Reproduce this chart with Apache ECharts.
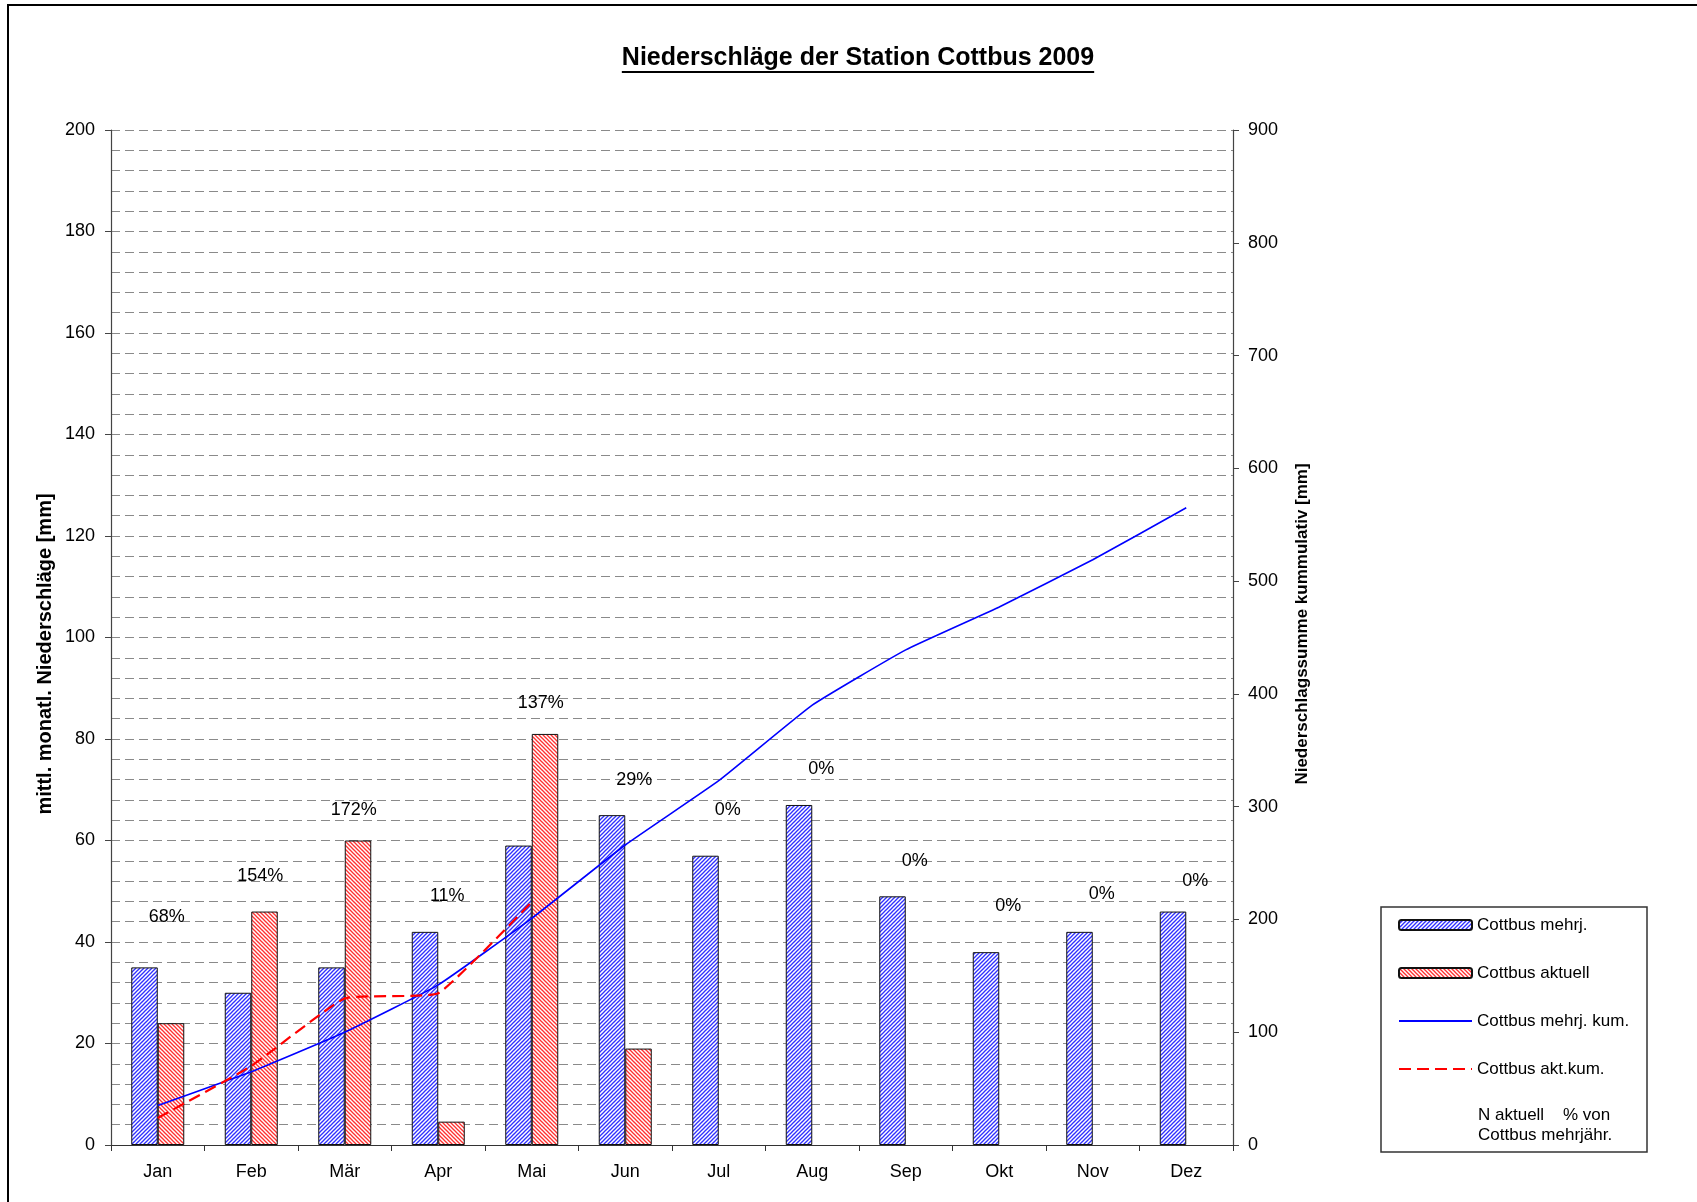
<!DOCTYPE html>
<html>
<head>
<meta charset="utf-8">
<script src="https://cdn.jsdelivr.net/npm/echarts@6/dist/echarts.min.js"></script>
<style>
html,body{margin:0;padding:0;background:#fff;}
#chart{width:1697px;height:1202px;}
</style>
</head>
<body>
<div id="chart"></div>
<script>
// ---- data ----
const months = ['Jan','Feb','Mär','Apr','Mai','Jun','Jul','Aug','Sep','Okt','Nov','Dez'];
const mehrj = [35, 30, 35, 42, 59, 65, 57, 67, 49, 38, 42, 46];
const aktuell = [24, 46, 60, 4.6, 81, 19, 0, 0, 0, 0, 0, 0];
const mehrjKum = [35, 65, 100, 142, 201, 266, 323, 390, 439, 477, 519, 565];
const aktKum = [24, 70, 130, 134.6, 215.6, null, null, null, null, null, null, null];
const pctText = ['68%','154%','172%','11%','137%','29%','0%','0%','0%','0%','0%','0%'];
const pctLabelY = [45, 53, 66, 49, 87, 72, 66, 74, 56, 47, 49.5, 52];
const leftTicksMax = 200, leftInterval = 20;
const rightTicksMax = 900, rightInterval = 100;

const FONT = '"Liberation Sans", Arial, sans-serif';

function hatch(color, dir) {
  const c = document.createElement('canvas');
  c.width = 4; c.height = 4;
  const g = c.getContext('2d');
  g.fillStyle = '#ffffff';
  g.fillRect(0, 0, 4, 4);
  g.strokeStyle = color;
  g.lineWidth = 1.3;
  for (let k = -8; k <= 8; k += 4) {
    g.beginPath();
    if (dir > 0) { g.moveTo(k - 1, 5); g.lineTo(k + 5, -1); }
    else { g.moveTo(k - 1, -1); g.lineTo(k + 5, 5); }
    g.stroke();
  }
  return c;
}

// zero-height bars are drawn without border (as in the reference)
function barItems(arr) {
  return arr.map(v => v === 0 ? {value: v, itemStyle: {borderWidth: 0}} : v);
}

const titleText = 'Niederschläge der Station Cottbus 2009';
const mctx = document.createElement('canvas').getContext('2d');
mctx.font = 'bold 25px ' + FONT;
const titleW = mctx.measureText(titleText).width;
const titleCX = 858;
const noSymbol = {color: 'rgba(0,0,0,0)', borderColor: 'rgba(0,0,0,0)', borderWidth: 0};

const chart = echarts.init(document.getElementById('chart'), null, {renderer: 'canvas'});

const option = {
  backgroundColor: '#ffffff',
  animation: false,
  textStyle: {fontFamily: FONT},
  grid: {left: 111, right: 464, top: 130, bottom: 57, containLabel: false},
  xAxis: {
    type: 'category',
    data: months,
    axisLine: {lineStyle: {color: '#333', width: 1.2}},
    axisTick: {show: true, length: 6, lineStyle: {color: '#333'}},
    axisLabel: {color: '#000', fontSize: 18, margin: 18, fontFamily: FONT},
    splitLine: {show: false}
  },
  yAxis: [
    {
      type: 'value', min: 0, max: leftTicksMax, interval: leftInterval, position: 'left',
      axisLine: {show: true, lineStyle: {color: '#444', width: 1.2}},
      axisTick: {show: true, length: 6, lineStyle: {color: '#444'}},
      axisLabel: {color: '#000', fontSize: 18, margin: 16, fontFamily: FONT},
      splitLine: {show: true, lineStyle: {color: '#8a8a8a', type: [9, 5], width: 1}},
      minorTick: {show: false, splitNumber: 5},
      minorSplitLine: {show: true, lineStyle: {color: '#8a8a8a', type: [9, 5], width: 1}}
    },
    {
      type: 'value', min: 0, max: rightTicksMax, interval: rightInterval, position: 'right',
      axisLine: {show: true, lineStyle: {color: '#444', width: 1.2}},
      axisTick: {show: true, length: 6, lineStyle: {color: '#444'}},
      axisLabel: {color: '#000', fontSize: 18, margin: 15, fontFamily: FONT},
      splitLine: {show: false}
    }
  ],
  legend: {
    orient: 'vertical',
    left: 1393, top: 910,
    itemWidth: 73, itemHeight: 10,
    itemGap: 28,
    textStyle: {fontSize: 17, color: '#000', fontFamily: FONT, lineHeight: 20},
    data: [
      'Cottbus mehrj.',
      'Cottbus aktuell',
      {name: 'Cottbus mehrj. kum.', itemStyle: noSymbol},
      {name: 'Cottbus akt.kum.', itemStyle: noSymbol}
    ]
  },
  series: [
    {
      name: 'Cottbus mehrj.', type: 'bar', data: barItems(mehrj), barWidth: 26.5, barGap: '0%',
      itemStyle: {color: {image: hatch('#3030ff', 1), repeat: 'repeat'}, borderColor: '#111', borderWidth: 1}
    },
    {
      name: 'Cottbus aktuell', type: 'bar', data: barItems(aktuell), barWidth: 26.5, barGap: '0%',
      itemStyle: {color: {image: hatch('#ff3030', -1), repeat: 'repeat'}, borderColor: '#111', borderWidth: 1}
    },
    {
      name: 'Cottbus mehrj. kum.', type: 'line', yAxisIndex: 1, data: mehrjKum,
      symbol: 'none', smooth: 0.12, z: 5,
      lineStyle: {color: '#0000ff', width: 1.6}, itemStyle: {color: '#0000ff'}
    },
    {
      name: 'Cottbus akt.kum.', type: 'line', yAxisIndex: 1, data: aktKum,
      symbol: 'none', smooth: 0.12, z: 5, connectNulls: false,
      lineStyle: {color: '#ff0000', width: 2.2, type: [12, 6]}, itemStyle: {color: '#ff0000'}
    },
    {
      name: 'N aktuell % von Cottbus mehrjähr.', type: 'scatter', yAxisIndex: 0,
      data: pctLabelY, symbolSize: 0, z: 6,
      itemStyle: {color: '#000', opacity: 1},
      label: {
        show: true, position: 'inside', offset: [9, 0],
        fontSize: 18, color: '#000', fontFamily: FONT,
        textBorderWidth: 0, textBorderColor: 'transparent',
        formatter: p => pctText[p.dataIndex]
      },
      tooltip: {show: false}
    }
  ],
  graphic: [
    {type: 'rect', shape: {x: 8, y: 5, width: 1720, height: 1230}, style: {fill: 'none', stroke: '#000', lineWidth: 2}, silent: true},
    {type: 'text', x: titleCX, y: 58, style: {text: titleText, font: 'bold 25px ' + FONT, fill: '#000', textAlign: 'center', textVerticalAlign: 'middle'}},
    {type: 'line', shape: {x1: titleCX - titleW / 2, y1: 72, x2: titleCX + titleW / 2, y2: 72}, style: {stroke: '#000', lineWidth: 2}},
    {type: 'text', x: 45, y: 654, rotation: Math.PI / 2, style: {text: 'mittl. monatl. Niederschläge [mm]', font: 'bold 20px ' + FONT, fill: '#000', textAlign: 'center', textVerticalAlign: 'middle'}},
    {type: 'text', x: 1302, y: 624, rotation: Math.PI / 2, style: {text: 'Niederschlagssumme kummulativ [mm]', font: 'bold 17px ' + FONT, fill: '#000', textAlign: 'center', textVerticalAlign: 'middle'}},
    {type: 'rect', shape: {x: 1381, y: 907, width: 266, height: 245}, style: {fill: 'none', stroke: '#333', lineWidth: 1.5}, z: -1},
    {type: 'text', x: 1478, y: 1105, style: {text: 'N aktuell    % von\nCottbus mehrjähr.', font: '17px ' + FONT, fill: '#000', lineHeight: 20, textAlign: 'left', textVerticalAlign: 'top'}}
  ]
};
chart.setOption(option);
</script>
</body>
</html>
